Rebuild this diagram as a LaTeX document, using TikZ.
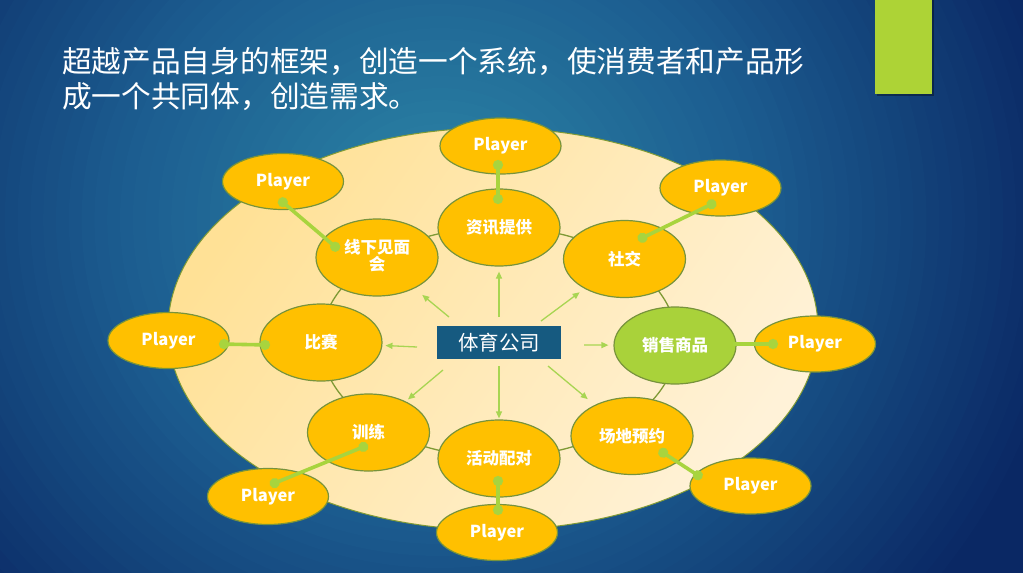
\documentclass[tikz,border=0pt]{standalone}
\usepackage{fontspec}
\usetikzlibrary{shapes.geometric,arrows.meta}
\newfontfamily\cjk{Noto Sans CJK SC}
\definecolor{bgin}{HTML}{2D88A7}
\definecolor{bgmid}{HTML}{1C5D90}
\definecolor{bgout}{HTML}{0A2864}
\definecolor{elD}{HTML}{FFE196}
\definecolor{elL}{HTML}{FFF2D8}
\definecolor{olive}{HTML}{77933C}
\definecolor{ringc}{HTML}{7F9A35}
\definecolor{nodeor}{HTML}{FFC000}
\definecolor{nodegr}{HTML}{A9D23A}
\definecolor{conc}{HTML}{A8D43E}
\definecolor{arrc}{HTML}{A8D552}
\definecolor{boxc}{HTML}{165A80}
\definecolor{barg}{HTML}{ADD336}
\begin{document}
\begin{tikzpicture}[x=1pt,y=-1pt,
  inner/.style={ellipse, draw=olive, line width=1.2pt, fill=nodeor, minimum width=122pt, minimum height=77pt, inner sep=0pt, text=white, font=\cjk\bfseries\fontsize{16.5}{19}\selectfont},
  player/.style={ellipse, draw=olive, line width=1.2pt, fill=nodeor, minimum width=121pt, minimum height=56pt, inner sep=0pt, text=white, font=\cjk\bfseries\fontsize{16.5}{19}\selectfont},
  arr/.style={draw=arrc, line width=1.3pt, -{Triangle[length=7pt,width=6pt]}},
  conn/.style={draw=conc, line width=3.6pt, {Circle[length=10pt]}-{Circle[length=10pt]}},
  conn1/.style={draw=conc, line width=3.6pt, -{Circle[length=10pt]}},
  titlef/.style={text=white, anchor=west, inner sep=0pt, font=\cjk\fontsize{29.7}{35}\selectfont}
]
\useasboundingbox (0,0) rectangle (1023,573);
% background
\begin{scope}
\clip (0,0) rectangle (1023,573);
\fill[bgout] (0,0) rectangle (1023,573);
\foreach \i in {0,...,49}{
  \pgfmathsetmacro\rr{1-\i/50}
  \pgfmathsetmacro\pp{\rr>0.5 ? (1-\rr)*200 : (0.5-\rr)*200}
  \ifdim\rr pt>0.5pt \colorlet{cc}{bgmid!\pp!bgout}\else\colorlet{cc}{bgin!\pp!bgmid}\fi
  \fill[cc] (440,220) ellipse [x radius=640*\rr, y radius=600*\rr];
}
\end{scope}
% green bar
\fill[black, opacity=0.35] (877,0) rectangle (934,96);
\fill[barg] (875,0) rectangle (932,94);
% title
\node[titlef] (t1) at (62,62) {超越产品自身的框架，创造一个系统，使消费者和产品形};
\node[titlef] (t2) at (62,97) {成一个共同体，创造需求。};
% big ellipse
\shade[top color=elD, bottom color=elL, shading angle=55] (493,329) ellipse [x radius=325, y radius=201];
\draw[ringc, line width=1pt] (493,329) ellipse [x radius=325, y radius=201];
% ring
\draw[ringc, line width=1.3pt] (499,342) ellipse [x radius=178, y radius=115];
% inner nodes
\node[inner] (n1) at (499,227.5) {资讯提供};
\node[inner] (n2) at (624.5,259) {社交};
\node[inner, fill=nodegr] (n3) at (675,345.5) {销售商品};
\node[inner] (n4) at (632,436) {场地预约};
\node[inner] (n5) at (499,458.5) {活动配对};
\node[inner] (n6) at (368.5,432.5) {训练};
\node[inner] (n7) at (321,342.5) {比赛};
\node[inner] (n8) at (377,257.5) {\raisebox{-6pt}{\begin{tabular}{@{}c@{}}线下见面\\[-3pt]会\end{tabular}}};
% centre box
\node[fill=boxc, text=white, minimum width=124pt, minimum height=33pt, inner sep=0pt, font=\cjk\fontsize{20.5}{22}\selectfont] (c) at (499,342.5) {体育公司};
% arrows
\coordinate (a1) at (499,317);
\coordinate (a2) at (541,321);
\coordinate (a3) at (584,345);
\coordinate (a4) at (548,366);
\coordinate (a5) at (499,366);
\coordinate (a6) at (443,370);
\coordinate (a7) at (417,347);
\coordinate (a8) at (449,317);
\draw[arr, shorten >=5pt] (a1) -- (n1);
\draw[arr, shorten >=6pt] (a2) -- (n2);
\draw[arr, shorten >=5pt] (a3) -- (n3);
\draw[arr, shorten >=9pt] (a4) -- (n4);
\draw[arr, shorten >=1pt] (a5) -- (n5);
\draw[arr, shorten >=3pt] (a6) -- (n6);
\draw[arr, shorten >=3pt] (a7) -- (n7);
\draw[arr, shorten >=10pt] (a8) -- (n8);
% players
\node[player] (p1) at (500.5,146) {Player};
\node[player] (p2) at (720.5,188) {Player};
\node[player] (p3) at (815,344) {Player};
\node[player] (p4) at (750.5,486) {Player};
\node[player] (p5) at (497,532.5) {Player};
\node[player] (p6) at (268,496.5) {Player};
\node[player] (p7) at (168.5,340.5) {Player};
\node[player] (p8) at (283,181.5) {Player};
% connector ends
\coordinate (d1a) at (498,160); \coordinate (d1b) at (498,204);
\coordinate (d2a) at (716,202); \coordinate (d2b) at (638,240);
\coordinate (d3a) at (778,344); \coordinate (d3b) at (733,344);
\coordinate (d4a) at (702,478); \coordinate (d4b) at (659,450);
\coordinate (d5a) at (498,515); \coordinate (d5b) at (498,476);
\coordinate (d6a) at (270,485); \coordinate (d6b) at (368,445);
\coordinate (d7a) at (219,344); \coordinate (d7b) at (270,345);
\coordinate (d8a) at (279,199); \coordinate (d8b) at (339,250);
\draw[conn] (d1a) -- (d1b);
\draw[conn] (d2a) -- (d2b);
\draw[conn1] (d3b) -- (d3a);
\draw[conn] (d4a) -- (d4b);
\draw[conn] (d5a) -- (d5b);
\draw[conn] (d6a) -- (d6b);
\draw[conn] (d7a) -- (d7b);
\draw[conn] (d8a) -- (d8b);
\end{tikzpicture}
\end{document}
